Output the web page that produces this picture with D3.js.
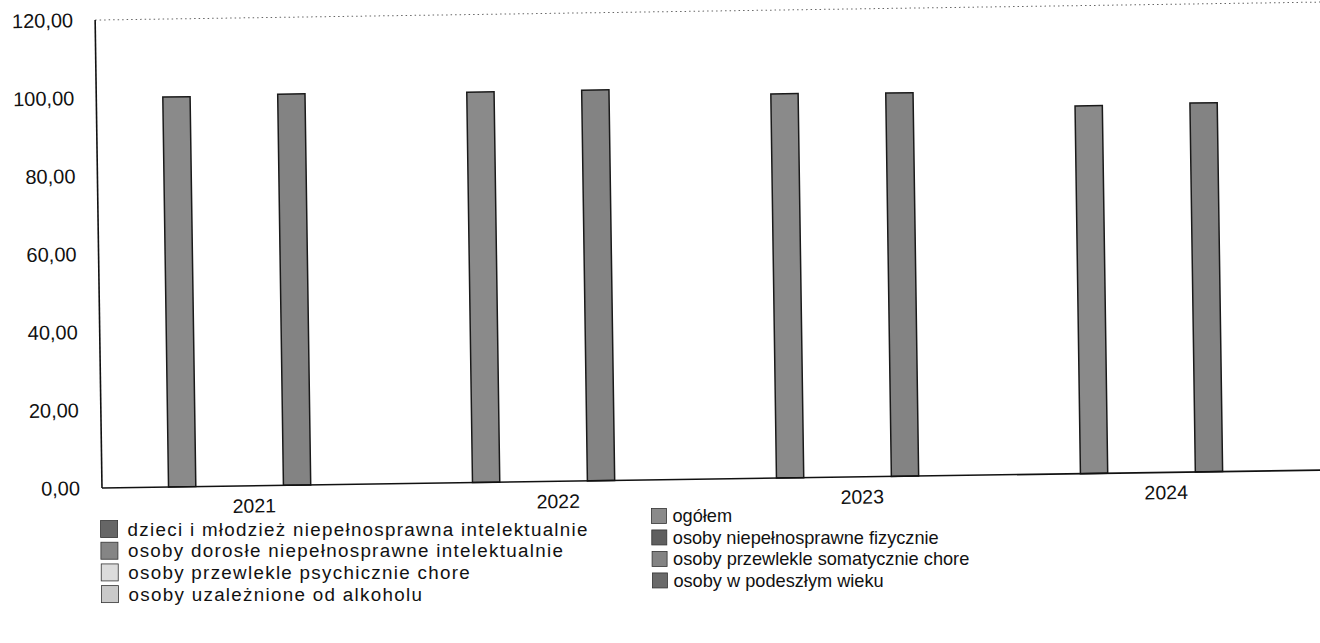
<!DOCTYPE html>
<html lang="pl">
<head>
    <meta charset="UTF-8">
    <title>Wykres</title>
    <style>
        body { margin: 0; background: #fff; }
        svg { display: block; font-family: "Liberation Sans", Arial, sans-serif; }
        .axis path, .axis line { display: none; }
        .axis text { fill: #111; }
    </style>
</head>
<script src="https://cdn.jsdelivr.net/npm/d3@7"></script>
<body>
</body>
<script>
    // dane
    var years = ['2021', '2022', '2023', '2024']
    var seriesNames = [
        'dzieci i młodzież niepełnosprawna intelektualnie',
        'ogółem',
        'osoby dorosłe niepełnosprawne intelektualnie',
        'osoby niepełnosprawne fizycznie',
        'osoby przewlekle psychicznie chore',
        'osoby przewlekle somatycznie chore',
        'osoby uzależnione od alkoholu',
        'osoby w podeszłym wieku'
    ]
    var dzieci = [0, 0, 0, 0]
    var ogolem = [100.0, 100.1, 98.5, 94.3]
    var dorosle = [0, 0, 0, 0]
    var fizycznie = [0, 0, 0, 0]
    var psychicznie = [0, 0, 0, 0]
    var somatycznie = [100.3, 100.2, 98.3, 94.6]
    var alkohol = [0, 0, 0, 0]
    var wiek = [0, 0, 0, 0]
    var yTicks = [0, 20, 40, 60, 80, 100, 120]

    var seriesValues = [dzieci, ogolem, dorosle, fizycznie, psychicznie, somatycznie, alkohol, wiek]
    var seriesColors = ['#666', '#8a8a8a', '#858585', '#5f5f5f', '#dcdcdc', '#838383', '#c9c9c9', '#6a6a6a']

    var width = 1320
        height = 643
        plot = {left: 102, top: 20, right: 1318, bottom: 488}
        angle = -0.84

    // obrót punktu wokół początku osi (skan jest lekko przekrzywiony)
    function rot(px, py) {
        var a = angle * Math.PI / 180
            dx = px - plot.left
            dy = py - plot.bottom
        return [plot.left + dx * Math.cos(a) - dy * Math.sin(a),
                plot.bottom + dx * Math.sin(a) + dy * Math.cos(a)]
    }

    var svg = d3.select('body')
        .append('svg')
        .attr('width', width)
        .attr('height', height)

    var g = svg.append('g')
        .attr('transform', `rotate(${angle}, ${plot.left}, ${plot.bottom})`)

    var x0 = d3.scaleBand()
        .domain(years)
        .range([plot.left, plot.right])
    var x1 = d3.scaleBand()
        .domain(d3.range(seriesNames.length))
        .range([37.8, x0.bandwidth() - 37.8])
        .paddingInner(0.05)
    var y = d3.scaleLinear()
        .domain([0, 120])
        .range([plot.bottom, plot.top])

    // górna krawędź obszaru wykresu
    g.append('line')
        .attr('x1', plot.left)
        .attr('x2', width + 20)
        .attr('y1', y(120))
        .attr('y2', y(120))
        .attr('stroke', '#666')
        .attr('stroke-width', 1)
        .attr('stroke-dasharray', '1.5,3')

    // słupki
    seriesValues.forEach((vals, s) => {
        g.selectAll('.bar' + s)
            .data(vals.map((v, i) => ({year: years[i], value: v})).filter(d => d.value > 0))
            .enter()
            .append('rect')
            .attr('class', 'bar' + s)
            .attr('x', d => x0(d.year) + x1(s))
            .attr('y', d => y(d.value))
            .attr('width', x1.bandwidth())
            .attr('height', d => y(0) - y(d.value))
            .attr('fill', seriesColors[s])
            .attr('stroke', '#1a1a1a')
            .attr('stroke-width', 1.5)
    })

    // osie
    var leftAxis = d3.axisLeft(y)
        .tickValues(yTicks)
        .tickSize(0)
        .tickPadding(22)
        .tickFormat(d => d3.format('.2f')(d).replace('.', ','))
    g.append('g')
        .attr('class', 'axis')
        .attr('transform', `translate(${plot.left}, 0)`)
        .style('font-size', '20px')
        .call(leftAxis)

    var bottomAxis = d3.axisBottom(x0)
        .tickSize(0)
        .tickPadding(13)
    g.append('g')
        .attr('class', 'axis')
        .attr('transform', `translate(0, ${plot.bottom})`)
        .style('font-size', '19.5px')
        .call(bottomAxis)

    g.append('line')
        .attr('x1', plot.left).attr('x2', plot.left)
        .attr('y1', y(0)).attr('y2', y(120))
        .attr('stroke', '#111').attr('stroke-width', 1.6)
    g.append('line')
        .attr('x1', plot.left).attr('x2', width + 20)
        .attr('y1', y(0)).attr('y2', y(0))
        .attr('stroke', '#111').attr('stroke-width', 1.6)

    // legenda (kolejność wierszami, dwie kolumny; lewa kolumna w skanie jest szersza)
    var legendCols = [
        {x: 100, y: 529, step: 21.7, box: 17, gap: 27, font: '18.8px', spacing: '1.3px'},
        {x: 651, y: 524, step: 21.5, box: 15, gap: 21, font: '18.2px', spacing: '0px'}
    ]
    var legend = svg.append('g')
        .attr('class', 'legend')
    var item = legend.selectAll('.item')
        .data(seriesNames)
        .enter()
        .append('g')
        .attr('class', 'item')
        .attr('transform', (d, i) => {
            var c = legendCols[i % 2]
                p = rot(c.x, c.y + Math.floor(i / 2) * c.step)
            return `translate(${p[0]}, ${p[1]})`
        })
    item.append('rect')
        .attr('x', 0)
        .attr('y', (d, i) => -legendCols[i % 2].box / 2)
        .attr('width', (d, i) => legendCols[i % 2].box)
        .attr('height', (d, i) => legendCols[i % 2].box)
        .attr('fill', (d, i) => seriesColors[i])
        .attr('stroke', '#333')
        .attr('stroke-width', 0.8)
    item.append('text')
        .attr('x', (d, i) => legendCols[i % 2].gap)
        .attr('dy', '0.35em')
        .style('font-size', (d, i) => legendCols[i % 2].font)
        .style('letter-spacing', (d, i) => legendCols[i % 2].spacing)
        .attr('fill', '#111')
        .text(d => d)
</script>
</html>
